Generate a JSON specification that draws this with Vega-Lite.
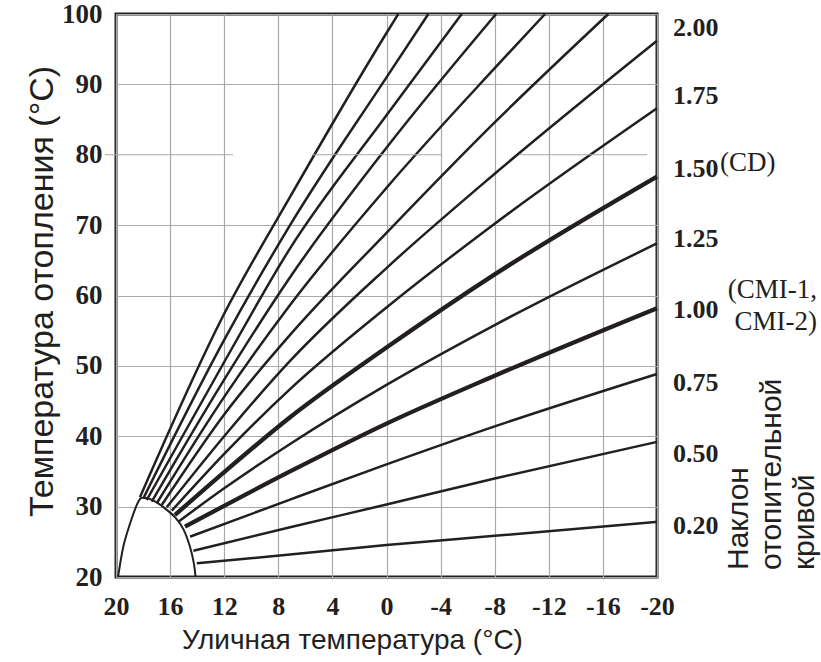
{
  "$schema": "https://vega.github.io/schema/vega-lite/v6.json",
  "width": 541,
  "height": 563,
  "autosize": {"type": "none"},
  "padding": {"left": 116, "top": 14, "right": 164, "bottom": 85},
  "background": "white",
  "config": {"view": {"stroke": "#231f20", "strokeWidth": 3}, "font": "Liberation Sans"},
  "datasets": {
    "curves": [
      {"c":"k1","x":14.03,"y":21.95},{"c":"k1","x":7.13,"y":23.2},{"c":"k1","x":0,"y":24.55},{"c":"k1","x":-8,"y":25.85},{"c":"k1","x":-20,"y":27.85},
      {"c":"k2","x":14.28,"y":23.74},{"c":"k2","x":7.13,"y":27.06},{"c":"k2","x":0,"y":30.3},{"c":"k2","x":-8,"y":34.0},{"c":"k2","x":-20,"y":39.2},
      {"c":"k3","x":14.53,"y":25.73},{"c":"k3","x":7.13,"y":31.0},{"c":"k3","x":0,"y":36.0},{"c":"k3","x":-8,"y":41.4},{"c":"k3","x":-20,"y":48.85},
      {"c":"k4","x":14.9,"y":27.15},{"c":"k4","x":7.13,"y":35.0},{"c":"k4","x":0,"y":41.8},{"c":"k4","x":-8,"y":48.6},{"c":"k4","x":-20,"y":58.2},
      {"c":"k5","x":15.39,"y":27.86},{"c":"k5","x":12,"y":32.6},{"c":"k5","x":7.13,"y":38.9},{"c":"k5","x":0,"y":47.3},{"c":"k5","x":-8,"y":55.8},{"c":"k5","x":-20,"y":67.4},
      {"c":"k6","x":15.64,"y":28.81},{"c":"k6","x":12,"y":34.9},{"c":"k6","x":7.13,"y":42.7},{"c":"k6","x":0,"y":52.6},{"c":"k6","x":-8,"y":63.0},{"c":"k6","x":-20,"y":76.9},
      {"c":"k7","x":15.88,"y":29.42},{"c":"k7","x":12,"y":37.5},{"c":"k7","x":7.13,"y":46.7},{"c":"k7","x":0,"y":58.3},{"c":"k7","x":-8,"y":70.2},{"c":"k7","x":-20,"y":86.6},
      {"c":"k8","x":16.25,"y":29.9},{"c":"k8","x":12,"y":40.0},{"c":"k8","x":7.13,"y":50.7},{"c":"k8","x":0,"y":63.9},{"c":"k8","x":-8,"y":77.3},{"c":"k8","x":-20,"y":96.2},
      {"c":"k9","x":16.62,"y":30.23},{"c":"k9","x":12,"y":43.1},{"c":"k9","x":7.13,"y":54.4},{"c":"k9","x":0,"y":68.9},{"c":"k9","x":-8,"y":84.6},{"c":"k9","x":-16.4,"y":100},
      {"c":"k10","x":16.99,"y":30.47},{"c":"k10","x":12,"y":45.6},{"c":"k10","x":7.13,"y":58.65},{"c":"k10","x":0,"y":75.3},{"c":"k10","x":-8,"y":92.3},{"c":"k10","x":-11.72,"y":100},
      {"c":"k11","x":17.36,"y":30.7},{"c":"k11","x":12,"y":48.05},{"c":"k11","x":7.13,"y":62.6},{"c":"k11","x":0,"y":81.0},{"c":"k11","x":-8.1,"y":100},
      {"c":"k12","x":17.73,"y":30.94},{"c":"k12","x":12,"y":50.55},{"c":"k12","x":7.13,"y":66.7},{"c":"k12","x":0,"y":85.6},{"c":"k12","x":-5.56,"y":100},
      {"c":"k13","x":17.98,"y":31.18},{"c":"k13","x":12,"y":53.7},{"c":"k13","x":7.13,"y":70.0},{"c":"k13","x":0,"y":91.0},{"c":"k13","x":-3.09,"y":100},
      {"c":"k14","x":18.23,"y":31.33},{"c":"k14","x":12,"y":57.4},{"c":"k14","x":7.13,"y":74.0},{"c":"k14","x":0,"y":97.3},{"c":"k14","x":-0.87,"y":100}
    ],
    "arc": [
      {"i":1,"x":19.85,"y":20.0},{"i":2,"x":19.46,"y":24.3},{"i":3,"x":18.96,"y":27.6},{"i":4,"x":18.47,"y":30.2},{"i":5,"x":18.15,"y":31.2},{"i":6,"x":17.6,"y":31.15},{"i":7,"x":17.0,"y":30.6},{"i":8,"x":16.38,"y":29.75},{"i":9,"x":15.64,"y":28.5},{"i":10,"x":15.02,"y":26.8},{"i":11,"x":14.53,"y":24.3},{"i":12,"x":14.25,"y":22.0},{"i":13,"x":14.12,"y":20.0}
    ],
    "labels": [
      {"t":"2.00","y":98.0},{"t":"1.75","y":88.35},{"t":"1.50","y":77.97},{"t":"1.25","y":68.03},{"t":"1.00","y":57.94},{"t":"0.75","y":47.57},{"t":"0.50","y":37.48},{"t":"0.20","y":27.25}
    ],
    "notesLeft": [{"t":"(CD)","y":78.8}],
    "notesRight": [{"t":"(CMI-1,","y":60.78},{"t":"CMI-2)","y":56.23}],
    "grid80": [{"x":20.81,"x2":11.35},{"x":5.51,"x2":-4.03},{"x":-9.87,"x2":-19.26}],
    "rtitle": [{"t":"Наклон\nотопительной\nкривой"}]
  },
  "layer": [
    {
      "data": {"name": "curves"},
      "mark": {"type": "line", "interpolate": "monotone", "color": "#231f20", "strokeCap": "butt"},
      "encoding": {
        "x": {
          "field": "x", "type": "quantitative",
          "scale": {"domain": [-20, 20], "reverse": true, "nice": false, "zero": false},
          "axis": {
            "values": [20, 16, 12, 8, 4, 0, -4, -8, -12, -16, -20],
            "labelExpr": "'' + datum.value",
            "title": "Уличная температура (°C)",
            "domain": false, "ticks": false, "tickSize": 0,
            "labelFont": "Liberation Serif", "labelFontWeight": "bold", "labelFontSize": 26,
            "labelColor": "#231f20", "labelPadding": 16, "labelFlush": false, "labelOverlap": false,
            "grid": true, "gridColor": "#a7a9ac", "gridWidth": 1.2,
            "titleFont": "Liberation Sans", "titleFontSize": 28, "titleFontWeight": "normal",
            "titleColor": "#231f20", "titleX": 236, "titleY": 63, "titleAlign": "center", "titleBaseline": "middle"
          }
        },
        "y": {
          "field": "y", "type": "quantitative",
          "scale": {"domain": [20, 100], "nice": false, "zero": false},
          "axis": {
            "values": [20, 30, 40, 50, 60, 70, 80, 90, 100],
            "title": "Температура отопления (°C)",
            "domain": false, "ticks": false, "tickSize": 0,
            "labelFont": "Liberation Serif", "labelFontWeight": "bold", "labelFontSize": 27,
            "labelColor": "#231f20", "labelPadding": 14, "labelFlush": false, "labelOverlap": false,
            "grid": true, "gridColor": "#a7a9ac", "gridWidth": 1.2,
            "gridOpacity": {"condition": {"test": "datum.value === 80", "value": 0}, "value": 1},
            "titleFont": "Liberation Sans", "titleFontSize": 34, "titleFontWeight": "normal",
            "titleColor": "#231f20", "titleAngle": 270, "titleX": -74, "titleY": 277,
            "titleAlign": "center", "titleBaseline": "middle"
          }
        },
        "detail": {"field": "c"},
        "order": {"field": "x", "sort": "descending"},
        "strokeWidth": {"condition": {"test": "datum.c === 'k4' || datum.c === 'k6'", "value": 4.3}, "value": 2.5}
      }
    },
    {
      "data": {"name": "grid80"},
      "mark": {"type": "rule", "color": "#a7a9ac", "strokeWidth": 1.2},
      "encoding": {
        "x": {"field": "x", "type": "quantitative"},
        "x2": {"field": "x2"},
        "y": {"datum": 80, "type": "quantitative"}
      }
    },
    {
      "data": {"name": "arc"},
      "mark": {"type": "line", "interpolate": "cardinal", "color": "#231f20", "strokeWidth": 2},
      "encoding": {
        "x": {"field": "x", "type": "quantitative"},
        "y": {"field": "y", "type": "quantitative"},
        "order": {"field": "i"}
      }
    },
    {
      "data": {"name": "labels"},
      "mark": {"type": "text", "align": "left", "baseline": "middle", "dx": 16, "font": "Liberation Serif", "fontWeight": "bold", "fontSize": 26, "color": "#231f20"},
      "encoding": {
        "x": {"datum": -20, "type": "quantitative"},
        "y": {"field": "y", "type": "quantitative"},
        "text": {"field": "t"}
      }
    },
    {
      "data": {"name": "notesLeft"},
      "mark": {"type": "text", "align": "left", "baseline": "middle", "dx": 63, "font": "Liberation Serif", "fontSize": 27, "color": "#231f20"},
      "encoding": {
        "x": {"datum": -20, "type": "quantitative"},
        "y": {"field": "y", "type": "quantitative"},
        "text": {"field": "t"}
      }
    },
    {
      "data": {"name": "notesRight"},
      "mark": {"type": "text", "align": "right", "baseline": "middle", "dx": 160, "font": "Liberation Serif", "fontSize": 27, "color": "#231f20"},
      "encoding": {
        "x": {"datum": -20, "type": "quantitative"},
        "y": {"field": "y", "type": "quantitative"},
        "text": {"field": "t"}
      }
    },
    {
      "data": {"name": "rtitle"},
      "mark": {"type": "text", "angle": 270, "align": "left", "baseline": "top", "dx": 7, "dy": 67, "lineBreak": "\n", "lineHeight": 33, "font": "Liberation Sans", "fontSize": 30, "color": "#231f20"},
      "encoding": {
        "x": {"datum": -20, "type": "quantitative"},
        "y": {"datum": 20, "type": "quantitative"},
        "text": {"field": "t"}
      }
    }
  ]
}
